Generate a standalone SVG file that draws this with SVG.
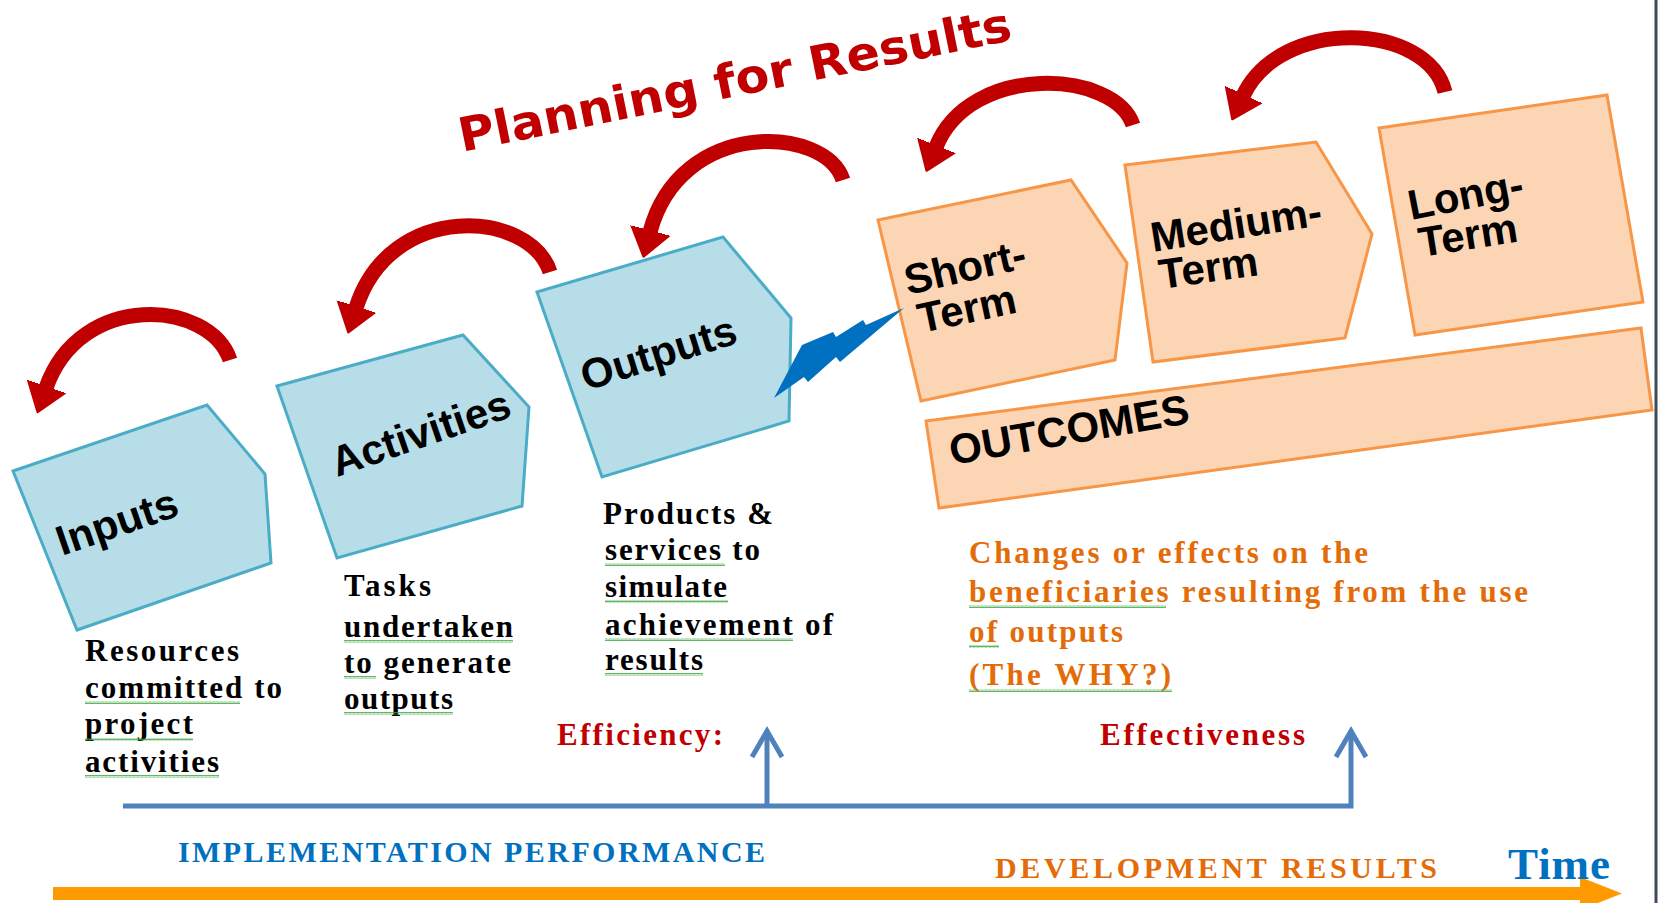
<svg xmlns="http://www.w3.org/2000/svg" width="1660" height="903" viewBox="0 0 1660 903">
<defs>
<style>
.blue{fill:#B7DEE8;stroke:#4BACC6;stroke-width:3;stroke-linejoin:miter}
.peach{fill:#FCD5B4;stroke:#F79646;stroke-width:3}
.lbl{font-family:"Liberation Sans",Arial,sans-serif;font-weight:bold;font-size:42px;fill:#000}
.ser{font-family:"Liberation Serif","Times New Roman",serif;font-weight:bold;font-size:31px}
.blk{fill:#000}
.org{fill:#E36C09}
.red{fill:#C00000}
.bl{fill:#0070C0}
.curve{fill:none;stroke:#C00000;stroke-width:15;marker-end:url(#rh)}
.wavy{fill:url(#wv)}
.track{fill:none;stroke:#4F81BD;stroke-width:5}
</style>
<marker id="rh" markerUnits="strokeWidth" viewBox="0 -1.5 2 3" markerWidth="2" markerHeight="3" refX="0.1" refY="0" orient="auto"><path d="M0,-1.3 L1.8,0 L0,1.3 z" fill="#C00000" stroke="#C00000" stroke-width="0.15" stroke-linejoin="round"/></marker>
<pattern id="wv" width="4" height="3" patternUnits="userSpaceOnUse"><path d="M0,2.5 L1,0.5 L2,2.5 L3,0.5 L4,2.5" fill="none" stroke="#3AA63A" stroke-width="0.8"/></pattern>
</defs>
<rect width="1660" height="903" fill="#FFFFFF"/>
<line x1="1656" y1="0" x2="1656" y2="903" stroke="#3F4A5A" stroke-width="3"/>

<text transform="translate(462,152) rotate(-11.5)" font-family="'DejaVu Sans',Verdana,sans-serif" font-weight="bold" font-size="47" fill="#C00000" textLength="563" lengthAdjust="spacingAndGlyphs">Planning for Results</text>

<g id="inputs">
<polygon class="blue" points="13,471 207,405 265,474 271,563 77,630"/>
<text class="lbl" transform="translate(62,556) rotate(-19)">Inputs</text>
</g>
<g id="activities">
<polygon class="blue" points="277,386 463,335 529,407 522,506 337,558"/>
<text class="lbl" transform="translate(337,477) rotate(-19)">Activities</text>
</g>
<g id="outputs">
<polygon class="blue" points="537,292 723,237 791,318 789,421 602,477"/>
<text class="lbl" transform="translate(586,391) rotate(-17.5)">Outputs</text>
</g>
<g id="short-term">
<polygon class="peach" points="878,220 1071,180 1127,263 1115,360 921,401"/>
<text class="lbl" transform="translate(908,295) rotate(-13)">Short-</text>
<text class="lbl" transform="translate(921,333) rotate(-12)">Term</text>
</g>
<g id="medium-term">
<polygon class="peach" points="1125,165 1316,142 1372,234 1345,338 1153,362"/>
<text class="lbl" transform="translate(1153,252) rotate(-9)">Medium-</text>
<text class="lbl" transform="translate(1161,289) rotate(-8)">Term</text>
</g>
<g id="long-term">
<polygon class="peach" points="1379,128 1607,95 1643,302 1415,335"/>
<text class="lbl" transform="translate(1411,220) rotate(-11)">Long-</text>
<text class="lbl" transform="translate(1421,257) rotate(-9)">Term</text>
</g>
<g id="outcomes">
<polygon class="peach" points="926,421 1641,328 1652,410 939,508"/>
<text class="lbl" transform="translate(952,465) rotate(-10)">OUTCOMES</text>
</g>

<g id="connectors">
<path class="curve" d="M230,360 C210,300 80,290 46,388"/>
<path class="curve" d="M550,272 C530,210 390,200 356,308"/>
<path class="curve" d="M843,180 C825,125 680,118 650,232"/>
<path class="curve" d="M1133,125 C1115,70 970,62 936,147"/>
<path class="curve" d="M1445,92 C1428,22 1280,16 1243,96"/>
<polygon points="774,398 802,345 833,332 836,337 863,320 866,325 904,308 840,362 836,357 808,382 804,377" fill="#0070C0"/>
<path class="track" d="M123,806 H1351 V733"/>
<path class="track" d="M767,806 V733"/>
<path class="track" d="M752,757 L767,731 L782,757"/>
<path class="track" d="M1336,757 L1351,731 L1366,757"/>
<rect x="53" y="887" width="1530" height="13" fill="#FF9900"/>
<polygon points="1580,877 1622,893.5 1580,910" fill="#FF9900"/>
</g>

<g id="inputs-desc" class="ser blk">
<text x="85" y="661" textLength="154" lengthAdjust="spacing">Resources</text>
<text x="85" y="698" textLength="197" lengthAdjust="spacing">committed to</text>
<text x="85" y="734" textLength="108" lengthAdjust="spacing">project</text>
<text x="85" y="772" textLength="134" lengthAdjust="spacing">activities</text>
<rect class="wavy" x="85" y="701" width="155" height="3"/>
<rect class="wavy" x="85" y="738" width="108" height="3"/>
<rect class="wavy" x="85" y="775" width="134" height="3"/>
</g>
<g id="activities-desc" class="ser blk">
<text x="344" y="596" textLength="87" lengthAdjust="spacing">Tasks</text>
<text x="344" y="637" textLength="169" lengthAdjust="spacing">undertaken</text>
<text x="344" y="673" textLength="167" lengthAdjust="spacing">to generate</text>
<text x="344" y="709" textLength="109" lengthAdjust="spacing">outputs</text>
<rect class="wavy" x="344" y="640" width="169" height="3"/>
<rect class="wavy" x="344" y="676" width="32" height="3"/>
<rect class="wavy" x="344" y="712" width="109" height="3"/>
</g>
<g id="outputs-desc" class="ser blk">
<text x="603" y="524" textLength="170" lengthAdjust="spacing">Products &amp;</text>
<text x="605" y="560" textLength="155" lengthAdjust="spacing">services to</text>
<text x="605" y="597" textLength="122" lengthAdjust="spacing">simulate</text>
<text x="605" y="635" textLength="228" lengthAdjust="spacing">achievement of</text>
<text x="605" y="670" textLength="98" lengthAdjust="spacing">results</text>
<rect class="wavy" x="605" y="563" width="120" height="3"/>
<rect class="wavy" x="605" y="600" width="123" height="3"/>
<rect class="wavy" x="605" y="638" width="188" height="3"/>
<rect class="wavy" x="605" y="673" width="98" height="3"/>
</g>
<g id="outcomes-desc" class="ser org">
<text x="969" y="563" textLength="399" lengthAdjust="spacing">Changes or effects on the</text>
<text x="969" y="602" textLength="559" lengthAdjust="spacing">beneficiaries resulting from the use</text>
<text x="969" y="642" textLength="154" lengthAdjust="spacing">of outputs</text>
<text x="969" y="685" textLength="202" lengthAdjust="spacing">(The WHY?)</text>
<rect class="wavy" x="969" y="605" width="197" height="3"/>
<rect class="wavy" x="969" y="645" width="30" height="3"/>
<rect class="wavy" x="969" y="689" width="203" height="3"/>
</g>
<g id="labels" class="ser">
<text class="red" x="557" y="745" textLength="166" lengthAdjust="spacing">Efficiency:</text>
<text class="red" x="1100" y="745" textLength="205" lengthAdjust="spacing">Effectiveness</text>
<text class="bl" x="178" y="862" font-size="30" textLength="587" lengthAdjust="spacing">IMPLEMENTATION PERFORMANCE</text>
<text class="org" x="995" y="878" font-size="30" textLength="442" lengthAdjust="spacing">DEVELOPMENT RESULTS</text>
<text class="bl" x="1508" y="879" font-size="45" textLength="102" lengthAdjust="spacing">Time</text>
</g>
</svg>
